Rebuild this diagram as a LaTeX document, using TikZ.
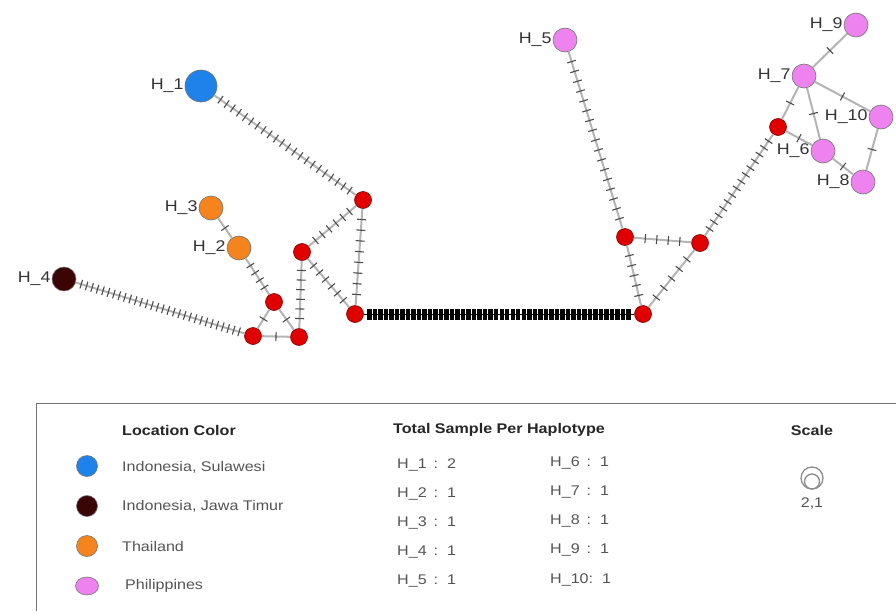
\documentclass[tikz,border=0pt]{standalone}
\usepackage{amsmath,amssymb,graphicx,tikz}
\usepackage{fontspec}
\setmainfont{Liberation Sans}
\newfontfamily\widefont[FakeStretch=1.15]{Liberation Sans}
\usetikzlibrary{decorations.markings,shapes.geometric}
\definecolor{sulawesi}{HTML}{1E82EB}
\definecolor{jawatimur}{HTML}{3C0505}
\definecolor{thailand}{HTML}{F5841E}
\definecolor{philippines}{HTML}{EE82EE}
\definecolor{median}{HTML}{E00000}
\definecolor{edgegray}{HTML}{B4B4B4}
\definecolor{labelgray}{HTML}{333333}
\definecolor{textgray}{HTML}{555555}
\tikzset{
  muts/.style={link, postaction={decorate, decoration={markings,
    mark=between positions 1/(#1+1) and (#1+0.5)/(#1+1) step 1/(#1+1) with {\draw[mtick] (0,-4.5) -- (0,4.5);}}}},
  bar/.style={link, draw=black, line width=1pt, postaction={decorate, decoration={markings,
    mark=between positions 1/(#1+1) and (#1+0.5)/(#1+1) step 1/(#1+1) with {\draw[black, line width=4.4pt] (0,-5.5) -- (0,5.5);}}}}
}

\begin{document}
\begin{tikzpicture}[x=1pt,y=1pt]
        \tikzstyle{every node}+=[inner sep=0pt]
        \tikzstyle{hap}=[circle, draw=black!55, line width=0.6pt, minimum size=24pt]
        \tikzstyle{mv}=[circle, draw=median!55!black, fill=median, line width=0.6pt, minimum size=17pt]
        \tikzstyle{lbl}=[font=\widefont\fontsize{15.5}{15.5}\selectfont, text=labelgray, inner sep=1pt]
        \tikzstyle{link}=[draw=edgegray, line width=2pt]
        \tikzstyle{mtick}=[draw=black!70, line width=1.1pt]
        \tikzstyle{key}=[font=\widefont\fontsize{14}{14}\selectfont, text=textgray, anchor=west]
        \tikzstyle{head}=[font=\widefont\bfseries\fontsize{14}{14}\selectfont, text=black!85, anchor=west]
        \useasboundingbox (0,0) rectangle (896,-613);
        \node [hap, fill=sulawesi, minimum size=32pt, label={[lbl]left:H\_1}] (h1) at (201,-86) {};
        \node [hap, fill=thailand, label={[lbl]left:H\_2}] (h2) at (239,-248) {};
        \node [hap, fill=thailand, label={[lbl]left:H\_3}] (h3) at (211,-208) {};
        \node [hap, fill=jawatimur, label={[lbl]left:H\_4}] (h4) at (64,-279) {};
        \node [hap, fill=philippines, label={[lbl]left:H\_5}] (h5) at (565,-40) {};
        \node [hap, fill=philippines, label={[lbl]left:H\_6}] (h6) at (823,-151) {};
        \node [hap, fill=philippines, label={[lbl]left:H\_7}] (h7) at (804,-76) {};
        \node [hap, fill=philippines, label={[lbl]left:H\_8}] (h8) at (863,-182) {};
        \node [hap, fill=philippines, label={[lbl]left:H\_9}] (h9) at (856,-25) {};
        \node [hap, fill=philippines, label={[lbl]left:H\_10}] (h10) at (881,-117) {};
        \node [mv] (m1) at (363,-200) {};
        \node [mv] (m2) at (302,-252) {};
        \node [mv] (m3) at (274,-302) {};
        \node [mv] (m4) at (253,-336) {};
        \node [mv] (m5) at (299,-337) {};
        \node [mv] (m6) at (355,-314) {};
        \node [mv] (m7) at (643,-314) {};
        \node [mv] (m8) at (625,-237) {};
        \node [mv] (m9) at (700,-243) {};
        \node [mv] (m10) at (778,-127) {};
        \draw [muts=22] (h1) -- (m1);
        \draw [muts=6] (m1) -- (m2);
        \draw [muts=8] (m1) -- (m6);
        \draw [muts=6] (m2) -- (m6);
        \draw [muts=6] (m2) -- (m5);
        \draw [muts=1] (h3) -- (h2);
        \draw [muts=4] (h2) -- (m3);
        \draw [muts=1] (m3) -- (m4);
        \draw [muts=1] (m3) -- (m5);
        \draw [muts=1] (m4) -- (m5);
        \draw [muts=30] (h4) -- (m4);
        \draw [bar=48] (m6) -- (m7);
        \draw [muts=17] (h5) -- (m8);
        \draw [muts=4] (m8) -- (m9);
        \draw [muts=5] (m8) -- (m7);
        \draw [muts=5] (m9) -- (m7);
        \draw [muts=14] (m9) -- (m10);
        \draw [muts=1] (m10) -- (h7);
        \draw [muts=1] (m10) -- (h6);
        \draw [muts=1] (h7) -- (h9);
        \draw [muts=1] (h7) -- (h10);
        \draw [muts=1] (h7) -- (h6);
        \draw [muts=1] (h10) -- (h8);
        \draw [muts=1] (h6) -- (h8);
        \draw [black!55, line width=1pt] (36,-611) -- (36,-403) -- (896,-403);
        \node [head] (t1) at (122,-430) {Location Color};
        \node [head] (t2) at (393,-430) {Total Sample Per Haplotype};
        \node [head, anchor=center] (t3) at (812,-430) {Scale};
        \node [hap, fill=sulawesi, minimum size=21pt] (k1) at (87,-466) {};
        \node [hap, fill=jawatimur, minimum size=21pt] (k2) at (87,-506) {};
        \node [hap, fill=thailand, minimum size=21pt] (k3) at (87,-546) {};
        \node [ellipse, draw=black!55, fill=philippines, line width=0.6pt, minimum width=23pt, minimum height=18pt] (k4) at (87,-586) {};
        \node [key] (c1) at (122,-467) {Indonesia, Sulawesi};
        \node [key] (c2) at (122,-506) {Indonesia, Jawa Timur};
        \node [key] (c3) at (122,-546) {Thailand};
        \node [key] (c4) at (125,-586) {Philippines};
        \node [key] (n1) at (397,-465) {H\_1\hspace{7pt}:\hspace{9pt}2};
        \node [key] (n2) at (397,-494) {H\_2\hspace{7pt}:\hspace{9pt}1};
        \node [key] (n3) at (397,-523) {H\_3\hspace{7pt}:\hspace{9pt}1};
        \node [key] (n4) at (397,-552) {H\_4\hspace{7pt}:\hspace{9pt}1};
        \node [key] (n5) at (397,-581) {H\_5\hspace{7pt}:\hspace{9pt}1};
        \node [key] (n6) at (550,-463) {H\_6\hspace{7pt}:\hspace{9pt}1};
        \node [key] (n7) at (550,-492) {H\_7\hspace{7pt}:\hspace{9pt}1};
        \node [key] (n8) at (550,-521) {H\_8\hspace{7pt}:\hspace{9pt}1};
        \node [key] (n9) at (550,-550) {H\_9\hspace{7pt}:\hspace{9pt}1};
        \node [key] (n10) at (550,-580) {H\_10:\hspace{9pt}1};
        \node [circle, draw=black!45, line width=1.3pt, minimum size=22pt] (s1) at (812,-478) {};
        \node [circle, draw=black!45, line width=1.3pt, minimum size=15pt, anchor=south] (s2) at (s1.south) {};
        \node [key, anchor=center] (s3) at (812,-503) {2,1};
\end{tikzpicture}
\end{document}
